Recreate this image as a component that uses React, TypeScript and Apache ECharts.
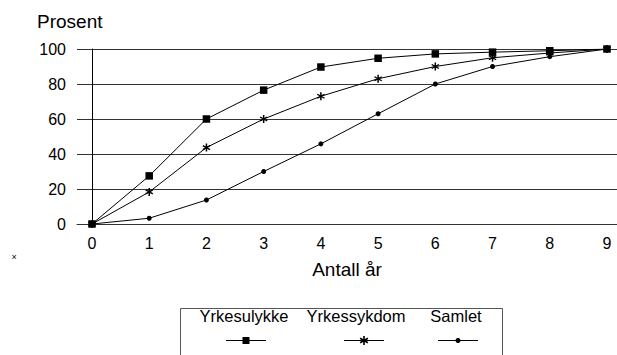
import React, { useEffect, useRef } from "react";
import * as echarts from "echarts";

// Andel (prosent) som er avklart etter antall år
const years = [0, 1, 2, 3, 4, 5, 6, 7, 8, 9];
const yrkesulykke = [0, 27.5, 60, 76.5, 89.7, 94.7, 97.2, 98.2, 99, 100];
const yrkessykdom = [0, 18.3, 43.7, 60, 73, 83, 90, 95, 97.7, 100];
const samlet = [0, 3.3, 13.7, 30, 45.8, 63, 80, 90, 95.6, 100];
const seriesNames = ["Yrkesulykke", "Yrkessykdom", "Samlet"];
const yTicks = [0, 20, 40, 60, 80, 100];

const FONT = "'Liberation Sans', Arial, sans-serif";
const INK = "#000";
const RULE = "#333";

// Asterisk-like marker: three bars crossing at the centre
function asteriskPath(): string {
  const L = 5;
  const w = 0.9;
  const parts: string[] = [];
  for (const deg of [90, 30, 150]) {
    const a = (deg * Math.PI) / 180;
    const dx = Math.cos(a), dy = Math.sin(a);
    const nx = -dy, ny = dx;
    const p = [
      [dx * L + nx * w, dy * L + ny * w],
      [-dx * L + nx * w, -dy * L + ny * w],
      [-dx * L - nx * w, -dy * L - ny * w],
      [dx * L - nx * w, dy * L - ny * w],
    ].map(([x, y]) => `${x.toFixed(2)},${y.toFixed(2)}`);
    parts.push(`M${p[0]}L${p[1]}L${p[2]}L${p[3]}Z`);
  }
  return parts.join(" ");
}

const STAR = asteriskPath();
echarts.graphic.registerShape("asterisk", echarts.graphic.extendPath(STAR, {}) as any);

export default function App() {
  const ref = useRef<HTMLDivElement>(null);

  useEffect(() => {
    if (!ref.current) return;
    const chart = echarts.init(ref.current, undefined, { renderer: "svg" });

    const gridLeft = 77;
    const gridTop = 49;
    const gridBottomY = 224;

    // legend drawn as text over a short line with the marker
    const legendCenters = [246, 364, 458];
    const legendTextX = [244, 356, 456];
    const legendTextY = 316;
    const legendSymY = 340;
    const legendGraphics: any[] = [
      {
        type: "rect",
        shape: { x: 180.5, y: 308.5, width: 322, height: 60 },
        style: { fill: "#fff", stroke: "#555", lineWidth: 1 },
      },
    ];
    seriesNames.forEach((name, i) => {
      const cx = legendCenters[i];
      legendGraphics.push({
        type: "text",
        x: legendTextX[i],
        y: legendTextY,
        style: {
          text: name,
          fill: INK,
          font: `16.5px ${FONT}`,
          textAlign: "center",
          textVerticalAlign: "middle",
        },
      });
      legendGraphics.push({
        type: "line",
        shape: { x1: cx - 20, y1: legendSymY + 0.5, x2: cx + 20, y2: legendSymY + 0.5 },
        style: { stroke: INK, lineWidth: 1 },
      });
      if (i === 0) {
        legendGraphics.push({
          type: "rect",
          shape: { x: cx - 3.5, y: legendSymY - 3, width: 7, height: 7 },
          style: { fill: INK },
        });
      } else if (i === 1) {
        legendGraphics.push({
          type: "asterisk",
          x: cx,
          y: legendSymY + 0.5,
          scaleX: 0.9,
          scaleY: 0.9,
          style: { fill: INK },
        });
      } else {
        legendGraphics.push({
          type: "circle",
          shape: { cx, cy: legendSymY + 0.5, r: 2.5 },
          style: { fill: INK },
        });
      }
    });

    const lineSeries = (name: string, data: number[], symbol: string, size: number) => ({
      name,
      type: "line",
      data: years.map((x, i) => [x, data[i]]),
      symbol,
      symbolSize: size,
      showAllSymbol: true,
      lineStyle: { color: INK, width: 1 },
      itemStyle: { color: INK },
      emphasis: { disabled: true },
    });

    chart.setOption({
      animation: false,
      backgroundColor: "#fff",
      grid: { left: gridLeft, right: 0, top: gridTop, height: gridBottomY - gridTop },
      xAxis: {
        type: "value",
        min: -0.262,
        max: 9.175,
        name: "Antall år",
        nameLocation: "middle",
        nameGap: 36,
        nameTextStyle: { color: INK, fontFamily: FONT, fontSize: 19 },
        axisLine: { show: true, lineStyle: { color: RULE, width: 1 } },
        axisTick: { show: false },
        splitLine: { show: false },
        axisLabel: {
          customValues: years,
          color: INK,
          fontFamily: FONT,
          fontSize: 16,
          margin: 11,
        },
      },
      yAxis: {
        type: "value",
        min: 0,
        max: 100,
        interval: 20,
        axisLine: { show: true, lineStyle: { color: INK, width: 1 } },
        axisTick: { show: false },
        splitLine: { show: true, lineStyle: { color: RULE, width: 1 } },
        axisLabel: {
          customValues: yTicks,
          color: INK,
          fontFamily: FONT,
          fontSize: 16,
          margin: 11,
        },
      },
      series: [
        lineSeries(seriesNames[2], samlet, "circle", 5),
        lineSeries(seriesNames[1], yrkessykdom, "path://" + STAR, 8),
        lineSeries(seriesNames[0], yrkesulykke, "rect", 7.5),
      ],
      graphic: [
        {
          type: "text",
          x: 37,
          y: 21,
          style: {
            text: "Prosent",
            fill: INK,
            font: `19px ${FONT}`,
            textVerticalAlign: "middle",
          },
        },
        {
          type: "text",
          x: 14,
          y: 257,
          style: {
            text: "×",
            fill: INK,
            font: `9px ${FONT}`,
            textAlign: "center",
            textVerticalAlign: "middle",
          },
        },
        ...legendGraphics,
      ],
    });

    return () => chart.dispose();
  }, []);

  return (
    <div
      ref={ref}
      style={{ position: "fixed", left: 0, top: 0, width: 617, height: 355 }}
    />
  );
}
